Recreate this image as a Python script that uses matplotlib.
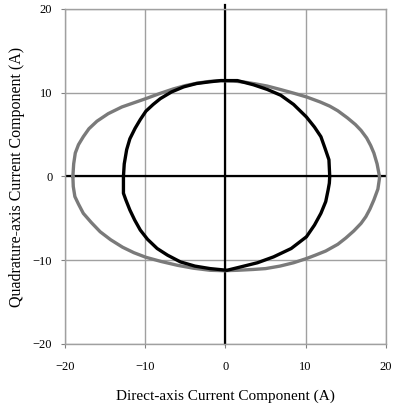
import matplotlib
matplotlib.use("Agg")
import matplotlib.pyplot as plt

# Gray curve (outer ellipse)
gray_x = [-19.0, -18.9, -18.7, -18.3, -17.7, -17.0, -16.0, -14.6, -12.9, -11.4, -9.9, -8.2, -6.5, -5.0,
          -3.5, -2.0, -0.5, 1.0, 2.5, 3.8, 5.2, 6.8, 8.5, 10.1, 11.8, 13.0, 14.0, 15.2, 16.2, 16.9,
          17.6, 18.1, 18.5, 18.9, 19.2,
          19.2, 19.0, 18.5, 18.0, 17.5, 16.9, 16.0, 15.0, 14.0, 12.5, 11.2, 10.1, 8.5, 6.8, 5.0,
          3.5, 1.5, -0.2, -1.9, -4.0, -6.0, -8.0, -9.9, -11.4, -12.8, -14.3, -15.6, -16.7, -17.7,
          -18.3, -18.75, -18.95, -19.0]
gray_y = [0.0, 1.5, 2.8, 3.8, 4.75, 5.7, 6.6, 7.5, 8.3, 8.8, 9.3, 9.9, 10.45, 10.85,
          11.15, 11.35, 11.45, 11.4, 11.25, 11.05, 10.8, 10.4, 9.95, 9.5, 8.9, 8.4, 7.85, 7.0, 6.2, 5.5,
          4.6, 3.7, 2.8, 1.5, 0.0,
          -0.2, -1.5, -2.8, -3.9, -4.8, -5.6, -6.5, -7.35, -8.1, -8.9, -9.4, -9.8, -10.3, -10.7, -11.0,
          -11.1, -11.2, -11.25, -11.2, -10.95, -10.6, -10.15, -9.65, -9.1, -8.45, -7.55, -6.6, -5.5, -4.4,
          -3.3, -2.4, -1.2, 0.0]

# Black curve (inner ellipse)
black_x = [-12.7, -12.6, -12.3, -11.9, -11.25, -10.6, -9.9, -9.0, -8.1, -6.7, -5.2, -3.6, -2.0, -0.6,
           1.5, 2.5, 3.5, 5.2, 6.9, 8.5, 10.1, 11.1, 11.9, 12.4, 12.9, 13.0,
           12.95, 12.8, 12.5, 11.9, 11.1, 10.1, 8.2, 6.0, 4.0, 1.9, 0.2, -1.9, -3.8, -5.6, -7.2,
           -8.5, -9.7, -10.6, -11.3, -11.9, -12.4, -12.7, -12.7]
black_y = [0.0, 1.5, 3.2, 4.5, 5.75, 6.8, 7.8, 8.6, 9.3, 10.1, 10.7, 11.1, 11.3, 11.45,
           11.45, 11.2, 10.95, 10.4, 9.7, 8.6, 7.1, 5.9, 4.75, 3.4, 2.0, 0.0,
           -0.8, -1.6, -3.0, -4.4, -5.8, -7.2, -8.6, -9.6, -10.3, -10.8, -11.2, -11.0, -10.7, -10.2, -9.4,
           -8.6, -7.5, -6.4, -5.2, -4.0, -2.8, -2.0, 0.0]

ticks = [-20, -10, 0, 10, 20]
xlabel = "Direct-axis Current Component (A)"
ylabel = "Quadrature-axis Current Component (A)"

plt.rcParams['font.family'] = ['Liberation Serif', 'DejaVu Serif']

fig = plt.figure(figsize=(3.93, 4.09), dpi=100)
ax = fig.add_axes([0.165, 0.159, 0.817, 0.819])

ax.set_xlim(-20, 20)
ax.set_ylim(-20, 20)
ax.set_xticks(ticks)
ax.set_yticks(ticks)
ax.grid(True, color='#a0a0a0', linewidth=1.0)
ax.set_axisbelow(True)
for s in ax.spines.values():
    s.set_color('#a0a0a0')
    s.set_linewidth(1.0)

ax.axhline(0, color='black', linewidth=1.6, zorder=2)
ax.axvline(0, ymin=0, ymax=1.012, color='black', linewidth=1.6, zorder=2, clip_on=False)

ax.plot(gray_x, gray_y, color='#7a7a7a', linewidth=2.4, zorder=3,
        solid_joinstyle='round', solid_capstyle='round')
ax.plot(black_x, black_y, color='black', linewidth=2.4, zorder=4,
        solid_joinstyle='round', solid_capstyle='round')

ax.tick_params(axis='both', labelsize=9, length=3, color='#808080')
ax.tick_params(axis='x', pad=9)
ax.tick_params(axis='y', pad=6)
ax.set_xlabel(xlabel, fontsize=11, labelpad=12)
ax.set_ylabel(ylabel, fontsize=11.5, labelpad=6)

fig.savefig("out.png", dpi=100)
